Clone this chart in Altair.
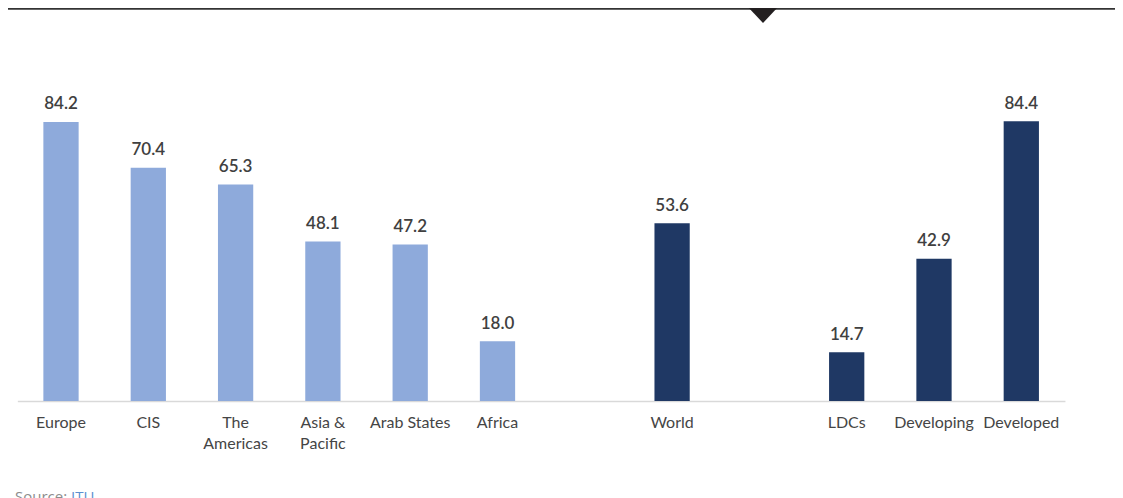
import altair as alt
import pandas as pd

categories = ["Europe", "CIS", "The Americas", "Asia & Pacific", "Arab States", "Africa",
              "World", "LDCs", "Developing", "Developed"]
values = [84.2, 70.4, 65.3, 48.1, 47.2, 18.0, 53.6, 14.7, 42.9, 84.4]
groups = ["region"] * 6 + ["world"] + ["dev"] * 3
slot_order = ["Europe", "CIS", "The Americas", "Asia & Pacific", "Arab States", "Africa",
              "_gap1", "World", "_gap2", "LDCs", "Developing", "Developed"]

df = pd.DataFrame({"category": categories, "value": values, "group": groups})
df["label"] = df["value"].map(lambda v: f"{v:.1f}")

W = 1047.6
H = 331.4
LEFT = 9.35
TOP = 61.6

label_expr = ("datum.value == 'The Americas' ? ['The', 'Americas'] : "
              "datum.value == 'Asia & Pacific' ? ['Asia &', 'Pacific'] : "
              "indexof(datum.value, '_') == 0 ? '' : datum.value")

x = alt.X("category:N", sort=slot_order,
          scale=alt.Scale(domain=slot_order, paddingInner=0.596, paddingOuter=0.298),
          axis=alt.Axis(title=None, labelExpr=label_expr, ticks=False, labelPadding=26.5,
                        labelBaseline="alphabetic", labelAngle=0, labelFont="Lato",
                        labelFontSize=16, labelColor="#454545", labelLineHeight=21,
                        domainColor="#d9d9d9", domainWidth=1.5, grid=False,
                        labelOverlap=False))
y = alt.Y("value:Q", scale=alt.Scale(domain=[0, 100]), axis=None)

bars = alt.Chart(df).mark_bar().encode(
    x=x, y=y,
    color=alt.Color("group:N",
                    scale=alt.Scale(domain=["region", "world", "dev"],
                                    range=["#8EAADB", "#1F3864", "#1F3864"]),
                    legend=None),
)

texts = alt.Chart(df).mark_text(font="Lato", fontSize=17, fontWeight=600, color="#404040",
                                baseline="alphabetic", dy=-12.5).encode(
    x=alt.X("category:N", sort=slot_order), y=y, text="label:N")

one = pd.DataFrame({"a": [0]})

top_line = alt.Chart(one).mark_rule(color="#333333", strokeWidth=2).encode(
    x=alt.value(-LEFT), x2=alt.value(1107 - LEFT), y=alt.value(-TOP + 0.8))

triangle = alt.Chart(one).mark_point(
    shape="M-1,-0.53L1,-0.53L0,0.53Z", size=900, filled=True, color="#231f20", opacity=1
).encode(x=alt.value(763 - 8 - LEFT), y=alt.value(15 - 8 - TOP))

src1 = alt.Chart(one).mark_text(font="Open Sans", fontSize=15, color="#8c8c8c",
                                align="left", baseline="alphabetic").encode(
    x=alt.value(15 - 8 - LEFT), y=alt.value(502 - 8 - TOP), text=alt.value("Source:"))
src2 = alt.Chart(one).mark_text(font="Open Sans", fontSize=15, color="#5b8fd0",
                                align="left", baseline="alphabetic").encode(
    x=alt.value(71 - 8 - LEFT), y=alt.value(502 - 8 - TOP), text=alt.value("ITU"))

chart = alt.layer(bars, texts, top_line, triangle, src1, src2).properties(
    width=W, height=H,
    background="white",
    autosize=alt.AutoSizeParams(type="none"),
    padding={"left": LEFT, "top": TOP, "right": 1107 - LEFT - W, "bottom": 490 - TOP - H},
).configure_view(stroke=None)

chart.save("out.html", embed_options={"renderer": "svg", "actions": False})
